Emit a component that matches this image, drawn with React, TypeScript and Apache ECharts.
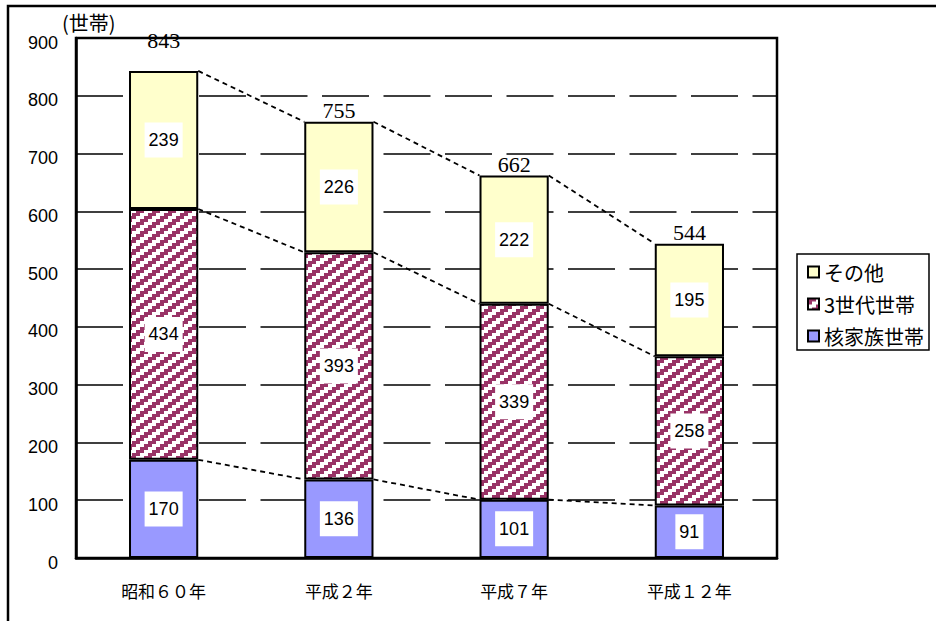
import React, { useEffect, useRef } from 'react';
import * as echarts from 'echarts';

const categories = ['昭和６０年', '平成２年', '平成７年', '平成１２年'];
const nuclearFamily = [170, 136, 101, 91];
const threeGeneration = [434, 393, 339, 258];
const otherHouseholds = [239, 226, 222, 195];
const seriesNames = ['核家族世帯', '3世代世帯', 'その他'];
const yMin = 0;
const yMax = 900;
const yInterval = 100;
const yAxisTitle = '(世帯)';

const BAR_FRAC = 0.395;
const CJK = '"Noto Sans CJK JP", "Noto Sans", sans-serif';
const SANS = '"Liberation Sans", Arial, sans-serif';
const SERIF = '"Liberation Serif", "Times New Roman", serif';

function makePattern(): string {
  const W = 16;
  const H = 12;
  const c = document.createElement('canvas');
  c.width = W;
  c.height = H;
  const ctx = c.getContext('2d')!;
  ctx.fillStyle = '#ffffff';
  ctx.fillRect(0, 0, W, H);
  ctx.fillStyle = '#993366';
  for (let cy = 0; cy < 4; cy++) {
    for (let cx = 0; cx < 4; cx++) {
      if ((cx + cy) % 4 < 2) ctx.fillRect(cx * 4, cy * 3, 4, 3);
    }
  }
  return c.toDataURL();
}

export default function App() {
  const ref = useRef<HTMLDivElement>(null);
  useEffect(() => {
    if (!ref.current) return;
    const chart = echarts.init(ref.current, null, { renderer: 'svg' });
    const totals = categories.map((_, i) => nuclearFamily[i] + threeGeneration[i] + otherHouseholds[i]);
    const level1 = nuclearFamily.slice();
    const level2 = categories.map((_, i) => nuclearFamily[i] + threeGeneration[i]);
    const levels = [level1, level2, totals];
    const pattern = { image: makePattern(), repeat: 'repeat', imageWidth: 16, imageHeight: 12 };

    const barLabel = {
      show: true,
      position: 'inside',
      color: '#000',
      fontFamily: SANS,
      fontSize: 18,
      backgroundColor: '#ffffff',
      padding: [9, 4, 8, 4],
      formatter: '{c}',
    };
    const barBase = {
      type: 'bar',
      stack: 'total',
      barWidth: (BAR_FRAC * 100) + '%',
      label: barLabel,
    };

    const option: any = {
      animation: false,
      backgroundColor: '#ffffff',
      grid: {
        left: 76,
        right: 159,
        top: 38,
        bottom: 63,
        show: true,
        borderColor: '#000',
        borderWidth: 2.5,
        backgroundColor: 'transparent',
      },
      legend: {
        orient: 'vertical',
        left: 797,
        top: 254,
        data: ['その他', '3世代世帯', '核家族世帯'],
        icon: 'rect',
        itemWidth: 11,
        itemHeight: 11,
        itemGap: 12,
        itemTextGap: 8,
        borderColor: '#000',
        borderWidth: 1.5,
        padding: [8, 5, 4, 10],
        textStyle: { fontFamily: CJK, fontSize: 20, color: '#000' },
      },
      xAxis: {
        type: 'category',
        data: categories,
        axisLine: { lineStyle: { color: '#000', width: 2.5 } },
        axisTick: { inside: true, length: 6, lineStyle: { color: '#000', width: 1.5 } },
        axisLabel: { margin: 24, fontSize: 17, color: '#000', fontFamily: CJK },
      },
      yAxis: {
        type: 'value',
        min: yMin,
        max: yMax,
        interval: yInterval,
        axisLine: { show: true, lineStyle: { color: '#000', width: 2.5 } },
        axisTick: { show: false },
        axisLabel: {
          margin: 18,
          formatter: (v: number) => '{a|' + v + '}',
          rich: {
            a: { fontSize: 18, color: '#000', fontFamily: SANS, padding: [9, 0, 0, 0] },
          },
        },
        splitLine: { show: true, lineStyle: { color: '#000', width: 1.5, type: [47, 14.5] } },
      },
      graphic: [
        {
          type: 'rect',
          z: -10,
          shape: { x: 8, y: 6, width: 1200, height: 1200 },
          style: { fill: 'none', stroke: '#000', lineWidth: 2.5 },
        },
        {
          type: 'text',
          x: 62,
          y: 22,
          style: { text: yAxisTitle, font: '20px ' + CJK, fill: '#000', verticalAlign: 'middle', align: 'left' },
        },
      ],
      series: [
        {
          ...barBase,
          name: seriesNames[0],
          data: nuclearFamily,
          itemStyle: { color: '#9999FF', borderColor: '#000', borderWidth: 2 },
        },
        {
          ...barBase,
          name: seriesNames[1],
          data: threeGeneration,
          itemStyle: { color: pattern, borderColor: '#000', borderWidth: 2 },
        },
        {
          ...barBase,
          name: seriesNames[2],
          data: otherHouseholds,
          itemStyle: { color: '#FFFFCC', borderColor: '#000', borderWidth: 2 },
        },
        {
          type: 'custom',
          name: 'seriesLines',
          z: 3,
          silent: true,
          data: categories.slice(0, -1).map((_, i) => [i, totals[i]]),
          encode: { x: 0, y: 1 },
          renderItem: (params: any, api: any) => {
            const i = api.value(0);
            const bw = api.size([1, 0])[0] * BAR_FRAC;
            return {
              type: 'group',
              children: levels.map((lv) => {
                const p1 = api.coord([i, lv[i]]);
                const p2 = api.coord([i + 1, lv[i + 1]]);
                return {
                  type: 'line',
                  shape: { x1: p1[0] + bw / 2, y1: p1[1], x2: p2[0] - bw / 2, y2: p2[1] },
                  style: { stroke: '#000', lineWidth: 1.8, lineDash: [5, 4] },
                };
              }),
            };
          },
        },
        {
          type: 'custom',
          name: 'totals',
          z: 5,
          silent: true,
          data: totals.map((t, i) => [i, t]),
          encode: { x: 0, y: 1 },
          renderItem: (params: any, api: any) => {
            const i = api.value(0);
            const t = api.value(1);
            const p = api.coord([i, t]);
            const shift = i === 0 ? -19 : 0;
            return {
              type: 'text',
              x: p[0],
              y: p[1] + shift,
              style: {
                text: String(t),
                font: '22px ' + SERIF,
                fill: '#000',
                align: 'center',
                verticalAlign: 'bottom',
              },
            };
          },
        },
      ],
    };
    chart.setOption(option);
    return () => chart.dispose();
  }, []);
  return (
    <div
      ref={ref}
      style={{ position: 'fixed', left: 0, top: 0, width: 936, height: 621, background: '#fff' }}
    />
  );
}
